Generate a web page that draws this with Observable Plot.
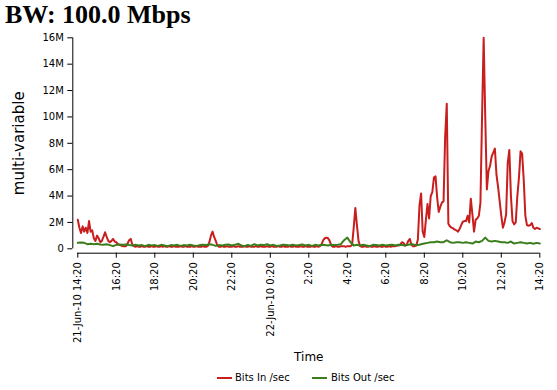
<!DOCTYPE html>
<html><head><meta charset="utf-8">
<script src="https://cdn.jsdelivr.net/npm/d3@7"></script>
<script src="https://cdn.jsdelivr.net/npm/@observablehq/plot@0.6"></script>
<style>
body{margin:0;background:#fff;}
#wrap{width:557px;height:390px;position:relative;overflow:hidden;font-family:"DejaVu Sans",sans-serif;color:#000;}
#title{height:30px;padding-left:5px;font:bold 26px/30px "Liberation Serif",serif;white-space:nowrap;}
#chart{height:336px;}
#legend{position:relative;height:24px;font-size:10px;}
.sw{position:absolute;top:11px;width:15px;height:2px;}
.lt{position:absolute;top:6px;line-height:12px;white-space:nowrap;}
</style></head>
<body>
<div id="wrap">
  <div id="title">BW: 100.0 Mbps</div>
  <div id="chart"></div>
  <div id="legend"></div>
</div>
<script>
// ---- data (values in millions of bits/sec) ----
const startTime = "2010-06-21T14:20:00Z";
const endTime = "2010-06-22T14:20:00Z";
const bitsInStepMinutes = 5;
const bitsIn = [
2.2,1.6,1.2,1.7,1.3,1.6,1.2,2.1,1.3,1.4,
0.8,0.6,1.0,0.8,0.5,0.6,0.9,1.25,0.9,0.6,
0.5,0.6,0.75,0.55,0.5,0.35,0.3,0.25,0.2,0.2,
0.2,0.4,0.65,0.75,0.3,0.2,0.15,0.2,0.15,0.15,
0.2,0.15,0.15,0.2,0.15,0.15,0.2,0.15,0.15,0.2,
0.15,0.15,0.2,0.15,0.2,0.15,0.15,0.2,0.15,0.15,
0.2,0.15,0.15,0.15,0.2,0.15,0.15,0.2,0.15,0.15,
0.15,0.2,0.15,0.15,0.2,0.15,0.15,0.15,0.2,0.15,
0.15,0.2,0.5,1.0,1.3,0.9,0.6,0.25,0.15,0.15,
0.2,0.15,0.15,0.2,0.15,0.15,0.15,0.2,0.15,0.15,
0.2,0.15,0.15,0.15,0.2,0.15,0.15,0.2,0.15,0.15,
0.15,0.2,0.15,0.15,0.2,0.15,0.15,0.15,0.2,0.15,
0.15,0.2,0.15,0.15,0.15,0.2,0.15,0.15,0.2,0.15,
0.15,0.15,0.2,0.15,0.15,0.2,0.15,0.15,0.15,0.2,
0.15,0.15,0.2,0.15,0.15,0.15,0.2,0.15,0.15,0.2,
0.15,0.2,0.35,0.65,0.8,0.85,0.8,0.6,0.25,0.15,
0.15,0.2,0.15,0.15,0.2,0.2,0.2,0.15,0.2,0.2,
0.2,0.3,1.6,3.1,1.8,0.6,0.2,0.15,0.15,0.2,
0.15,0.15,0.2,0.15,0.15,0.2,0.15,0.15,0.2,0.15,
0.15,0.2,0.15,0.15,0.2,0.15,0.2,0.2,
0.2,0.25,0.25,0.3,0.5,0.45,0.25,0.3,0.6,0.75,0.3,0.2,
0.2,0.25,0.7,3.3,4.2,1.3,0.9,2.2,3.4,2.3,
4.0,4.3,5.4,5.5,3.9,2.8,3.2,3.5,3.6,8.5,
11.0,1.9,1.7,1.6,1.55,1.45,1.4,1.3,1.5,1.8,
2.05,2.1,2.1,2.5,2.0,3.8,2.6,1.3,2.2,2.3,
2.5,3.5,10.0,16.0,10.0,4.5,5.9,6.3,7.0,7.3,
7.6,5.6,4.7,3.6,2.5,1.6,2.0,2.6,6.5,7.5,
4.0,2.1,1.85,2.0,4.0,5.4,7.4,7.2,5.2,2.5,
1.8,1.75,1.8,1.95,1.6,1.5,1.6,1.55,1.5
];
const bitsOutStepMinutes = 10;
const bitsOut = [
0.45,0.48,0.45,0.35,0.38,0.35,0.38,0.33,0.3,0.35,
0.28,0.2,0.3,0.32,0.3,0.32,0.28,0.25,0.3,0.25,
0.28,0.2,0.3,0.25,0.28,0.22,0.3,0.25,0.2,0.28,
0.25,0.3,0.22,0.28,0.25,0.3,0.25,0.22,0.28,0.3,
0.28,0.35,0.3,0.22,0.28,0.25,0.3,0.32,0.25,0.3,
0.38,0.25,0.2,0.3,0.22,0.35,0.25,0.3,0.28,0.35,
0.25,0.3,0.22,0.25,0.3,0.28,0.25,0.3,0.25,0.28,
0.32,0.25,0.3,0.22,0.3,0.25,0.3,0.28,0.25,0.3,
0.28,0.3,0.35,0.65,0.85,0.5,0.25,0.3,0.25,0.3,
0.25,0.2,0.3,0.28,0.25,0.3,0.25,0.28,0.3,0.25,
0.3,0.28,0.25,0.3,0.35,0.3,0.28,0.35,0.4,0.45,
0.5,0.5,0.55,0.5,0.5,0.65,0.5,0.45,0.5,0.5,
0.45,0.5,0.45,0.4,0.55,0.5,0.6,0.85,0.6,0.55,
0.6,0.55,0.5,0.5,0.45,0.55,0.4,0.45,0.5,0.45,
0.4,0.45,0.38,0.45,0.4
];
const xTickLabels = ["21-Jun-10 14:20","16:20","18:20","20:20","22:20","22-Jun-10 0:20","2:20","4:20","6:20","8:20","10:20","12:20","14:20"];
const xTickStepHours = 2;
const yTicks = [0,2,4,6,8,10,12,14,16];
const yTickLabels = ["0","2M","4M","6M","8M","10M","12M","14M","16M"];
const seriesNames = ["Bits In /sec","Bits Out /sec"];
const seriesColors = ["#c81e1e","#3b7d1c"];

// ---- build tables ----
const t0 = new Date(startTime), t1 = new Date(endTime);
const inData = bitsIn.map((v,i)=>({t:new Date(+t0 + i*bitsInStepMinutes*60000), v}));
const outData = bitsOut.map((v,i)=>({t:new Date(+t0 + i*bitsOutStepMinutes*60000), v}));
const xTicks = xTickLabels.map((_,i)=>new Date(+t0 + i*xTickStepHours*3600000));
const xLabelMap = new Map(xTicks.map((d,i)=>[+d, xTickLabels[i]]));
const yLabelMap = new Map(yTicks.map((d,i)=>[d, yTickLabels[i]]));

const chart = Plot.plot({
  width: 557, height: 336,
  marginLeft: 77.3, marginRight: 17.7, marginTop: 7.3, marginBottom: 117.7,
  style: {fontFamily: "DejaVu Sans", fontSize: "10px", background: "#fff", color: "#000"},
  x: {type: "utc", domain: [t0, t1]},
  y: {domain: [0, 16]},
  marks: [
    Plot.axisY({ticks: yTicks, tickFormat: d => yLabelMap.get(d), dx: -5, tickSize: 5, tickPadding: 4, label: null, fontSize: 10}),
    Plot.axisX({ticks: xTicks, tickFormat: d => xLabelMap.get(+d), dy: 4.4, tickSize: 5, tickPadding: 4, tickRotate: -90, label: null, fontSize: 10}),
    Plot.ruleX([t0], {y1: 0, y2: 16, dx: -5, stroke: "#000"}),
    Plot.ruleY([0], {x1: t0, x2: t1, dy: 4.4, stroke: "#000"}),
    Plot.line(inData, {x: "t", y: "v", stroke: seriesColors[0], strokeWidth: 2}),
    Plot.line(outData, {x: "t", y: "v", stroke: seriesColors[1], strokeWidth: 2}),
    Plot.text(["multi-variable"], {frameAnchor: "left", textAnchor: "middle", lineAnchor: "middle", rotate: -90, dx: -59, fontSize: 15, fill: "#000"}),
    Plot.text(["Time"], {frameAnchor: "bottom", textAnchor: "middle", lineAnchor: "middle", dy: 108.7, fontSize: 12, fill: "#000"})
  ]
});
document.getElementById("chart").appendChild(chart);

// legend
const legend = document.getElementById("legend");
const swX = [217, 312], txX = [235, 331];
seriesNames.forEach((name,i)=>{
  const sw = document.createElement("span"); sw.className="sw";
  sw.style.left = swX[i]+"px"; sw.style.background = seriesColors[i];
  legend.appendChild(sw);
  const tx = document.createElement("span"); tx.className="lt";
  tx.style.left = txX[i]+"px"; tx.textContent = name;
  legend.appendChild(tx);
});
</script>
</body></html>
